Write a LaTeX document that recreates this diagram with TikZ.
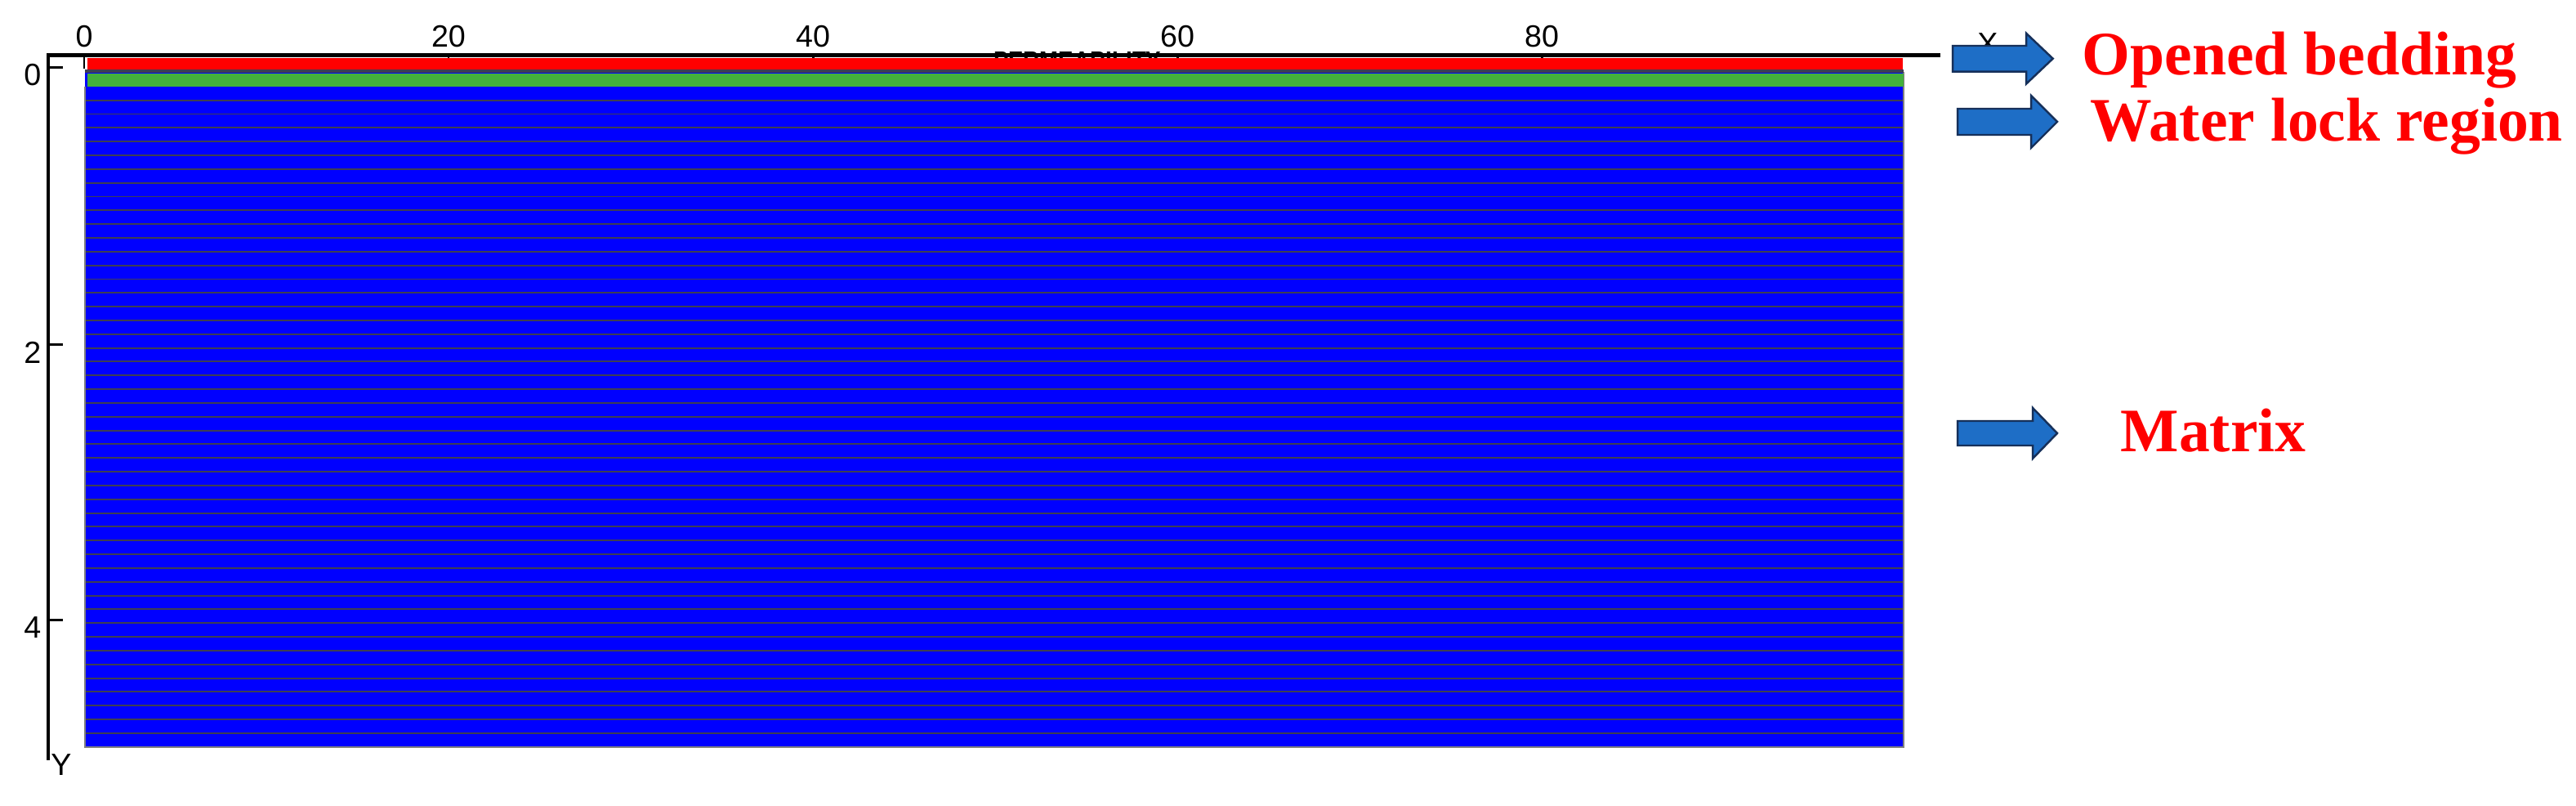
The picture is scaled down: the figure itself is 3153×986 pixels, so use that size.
\documentclass[tikz,border=0pt]{standalone}
\usepackage{fontspec}
\setmainfont{Liberation Serif}
\newfontfamily\axisfont{Liberation Sans}
\definecolor{matblue}{RGB}{0,0,255}
\definecolor{lockgreen}{RGB}{67,176,60}
\definecolor{bedred}{RGB}{255,0,0}
\definecolor{gridc}{RGB}{62,62,82}
\definecolor{arrowfill}{RGB}{30,110,198}
\definecolor{arrowedge}{RGB}{22,48,90}
\tikzset{
  axisline/.style={line width=1.15pt, black},
  tickline/.style={line width=0.85pt, black},
  axislabel/.style={font=\axisfont\fontsize{10.7}{10.7}\selectfont, inner sep=0pt, black},
  gridline/.style={line width=0.55pt, gridc},
  blockarrow/.style={fill=arrowfill, draw=arrowedge, line width=0.7pt, line join=miter},
  redlabel/.style={font=\fontsize{21.5}{21.5}\selectfont\bfseries, text=bedred, inner sep=0pt, anchor=base west}
}
\begin{document}
\begin{tikzpicture}[x=0.01cm,y=-0.01cm]
\useasboundingbox (0,0) rectangle (3153,986);
\fill[white] (0,0) rectangle (3153,986);

% partly hidden legend text of the plotting program
\node[anchor=east, inner sep=0pt, black] (legendtxt) at (1422,76)
  {\resizebox{2.05cm}{0.25cm}{\axisfont\bfseries PERMEABILITY}};

% x ticks
\foreach \v in {0,20,40,60,80}{
  \draw[tickline] ({103+22.3*\v},67.5) -- ({103+22.3*\v},84);
  \node[axislabel] (xl\v) at ({103+22.3*\v},45) {\v};
}
% y ticks
\foreach \v/\yy in {0/83,2/422,4/759}{
  \draw[tickline] (59,\yy) -- (77,\yy);
  \node[axislabel, anchor=east] (yl\v) at (51,\yy+9) {\v};
}

% matrix layers
\fill[matblue] (104,86) rectangle (2330,914);
\foreach \k in {0,...,46}{
  \draw[gridline] (104,{122.7+16.83*\k}) -- (2330,{122.7+16.83*\k});
}
\draw[line width=0.55pt, gray] (104,106) -- (104,914) -- (2330,914) -- (2330,88);
% water lock region
\fill[gridc] (104,85) rectangle (2330,89);
\fill[lockgreen] (107,90) rectangle (2330,106);
% opened bedding
\fill[bedred] (107,70.7) rectangle (2329,85);

% axes
\draw[axisline] (59,930) -- (59,67.5) -- (2375,67.5);
\node[axislabel] (xaxis) at (2433,54) {X};
\node[axislabel] (yaxis) at (75,936) {Y};

% arrows
\draw[blockarrow] (2390,56) -- (2480,56) -- (2480,40.7) -- (2512.7,71.7) -- (2480,102.7) -- (2480,87.7) -- (2390,87.7) -- cycle;
\draw[blockarrow] (2396,133) -- (2486,133) -- (2486,117) -- (2518,149) -- (2486,181) -- (2486,165) -- (2396,165) -- cycle;
\draw[blockarrow] (2396,515) -- (2488,515) -- (2488,499) -- (2518,530) -- (2488,561) -- (2488,545) -- (2396,545) -- cycle;

% labels
\node[redlabel] (opened) at (2548,91.7) {Opened bedding};
\node[redlabel] (water) at (2558,173) {Water lock region};
\node[redlabel] (matrix) at (2595,553) {Matrix};
\end{tikzpicture}
\end{document}
